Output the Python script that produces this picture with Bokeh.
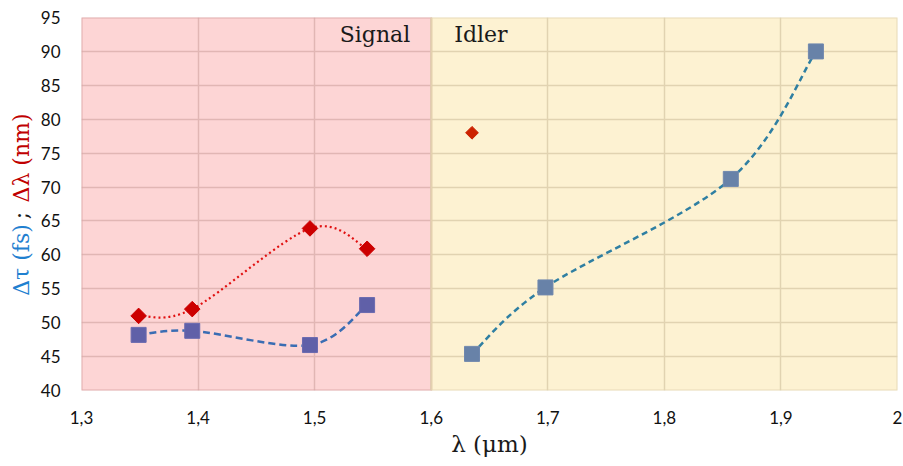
import math
from bokeh.plotting import figure
from bokeh.layouts import row
from bokeh.models import Range1d, FixedTicker, CustomJSTickFormatter, Label
from bokeh.core.properties import value
from bokeh.embed import file_html
from bokeh.resources import INLINE

# ---- data ----
signal_x = [1.349, 1.395, 1.496, 1.545]
signal_tau = [48.2, 48.8, 46.7, 52.6]
signal_dlambda = [51.0, 52.0, 63.9, 60.9]
idler_x = [1.635, 1.698, 1.857, 1.930]
idler_tau = [45.4, 55.2, 71.2, 90.0]
idler_dl_x = [1.635]
idler_dlambda = [78.0]
x_ticks = [1.3, 1.4, 1.5, 1.6, 1.7, 1.8, 1.9, 2.0]
y_ticks = [40, 45, 50, 55, 60, 65, 70, 75, 80, 85, 90, 95]
regions = {"Signal": (1.3, 1.6), "Idler": (1.6, 2.0)}
ylabel_parts = ["Δλ (nm)", ";", "Δτ (fs)"]
ylabel_colors = ["#c00000", "#1a1a1a", "#1f80d0"]


def smooth_segments(xs, ys):
    """Catmull-Rom style cubic Bezier segments (like spreadsheet smoothed lines)."""
    n = len(xs)
    out = dict(x0=[], y0=[], x1=[], y1=[], cx0=[], cy0=[], cx1=[], cy1=[])
    for i in range(n - 1):
        a = max(i - 1, 0)
        d = min(i + 2, n - 1)
        out["x0"].append(xs[i]); out["y0"].append(ys[i])
        out["x1"].append(xs[i + 1]); out["y1"].append(ys[i + 1])
        out["cx0"].append(xs[i] + (xs[i + 1] - xs[a]) / 6.0)
        out["cy0"].append(ys[i] + (ys[i + 1] - ys[a]) / 6.0)
        out["cx1"].append(xs[i + 1] - (xs[d] - xs[i]) / 6.0)
        out["cy1"].append(ys[i + 1] - (ys[d] - ys[i]) / 6.0)
    return out


TOTAL_H = 466
LEFT_W = 34
FRAME_TOP, FRAME_H = 17, 373

p = figure(frame_width=816, frame_height=FRAME_H, output_backend="svg", toolbar_location=None,
           x_range=Range1d(1.3, 2.0), y_range=Range1d(40, 95),
           min_border_left=81 - LEFT_W, min_border_right=6, min_border_top=FRAME_TOP,
           min_border_bottom=TOTAL_H - FRAME_TOP - FRAME_H)
p.background_fill_color = "white"
p.border_fill_color = "white"
p.outline_line_color = None

# region backgrounds (semi-transparent over the grid)
s0, s1 = regions["Signal"]
i0, i1 = regions["Idler"]
p.quad(left=[s0], right=[s1], bottom=[40], top=[95], fill_color="#fbabab", fill_alpha=0.5,
       line_color="#d9a3a3", line_width=2, line_alpha=0.8)
p.quad(left=[i0], right=[i1], bottom=[40], top=[95], fill_color="#fbe6a6", fill_alpha=0.5,
       line_color="#e2d4b2", line_width=2, line_alpha=0.8)

p.grid.grid_line_color = "#c6c0bc"
p.grid.grid_line_width = 1.5
p.xaxis.ticker = FixedTicker(ticks=x_ticks)
p.yaxis.ticker = FixedTicker(ticks=y_ticks)
p.xaxis.formatter = CustomJSTickFormatter(code="""
    var s = tick.toFixed(1).replace('.', ',');
    if (s.endsWith(',0')) { s = s.slice(0, -2); }
    return s;
""")
for ax in (p.xaxis[0], p.yaxis[0]):
    ax.axis_line_color = None
    ax.major_tick_line_color = None
    ax.minor_tick_line_color = None
    ax.major_label_text_font = "Lato"
    ax.major_label_text_font_size = "17px"
    ax.major_label_text_color = "#111111"
p.yaxis.major_label_standoff = 15
p.xaxis.major_label_standoff = 14
p.xaxis.axis_label = "λ (μm)"
p.xaxis.axis_label_text_font = "DejaVu Serif"
p.xaxis.axis_label_text_font_style = "normal"
p.xaxis.axis_label_text_font_size = "23px"
p.xaxis.axis_label_text_color = "#1a1a1a"
p.xaxis.axis_label_standoff = 4

# smoothed lines
seg = smooth_segments(signal_x, signal_dlambda)
p.bezier(source=seg, x0="x0", y0="y0", x1="x1", y1="y1", cx0="cx0", cy0="cy0", cx1="cx1", cy1="cy1",
         line_color="#e01010", line_width=2.2, line_dash="2 3")
seg = smooth_segments(signal_x, signal_tau)
p.bezier(source=seg, x0="x0", y0="y0", x1="x1", y1="y1", cx0="cx0", cy0="cy0", cx1="cx1", cy1="cy1",
         line_color="#3a6db3", line_width=2.5, line_dash="7 4")
seg = smooth_segments(idler_x, idler_tau)
p.bezier(source=seg, x0="x0", y0="y0", x1="x1", y1="y1", cx0="cx0", cy0="cy0", cx1="cx1", cy1="cy1",
         line_color="#2f7fa2", line_width=2.5, line_dash="6 4")

# markers (diamonds = squares rotated 45 deg)
p.scatter(signal_x, signal_dlambda, marker="square", angle=math.pi / 4, size=11,
          fill_color="#cc0000", line_color="#cc0000")
p.scatter(signal_x, signal_tau, marker="square", size=15, fill_color="#6060a8", line_color="#6a6ab0")
p.scatter(idler_dl_x, idler_dlambda, marker="square", angle=math.pi / 4, size=9,
          fill_color="#cc2200", line_color="#cc2200")
p.scatter(idler_x, idler_tau, marker="square", size=15, fill_color="#6882a8", line_color="#7088ae")

# region labels
p.add_layout(Label(x=s1, y=92.5, x_offset=-21, text="Signal", text_align="right", text_baseline="middle",
                   text_font="DejaVu Serif", text_font_size="22px", text_color="#1a1a1a"))
p.add_layout(Label(x=i0, y=92.5, x_offset=23, text="Idler", text_align="left", text_baseline="middle",
                   text_font="DejaVu Serif", text_font_size="22px", text_color="#1a1a1a"))

# multi-coloured y-axis title in a narrow side figure.
# Its frame is aligned with the main frame by the row layout, so its y range is
# expressed in page pixels measured from the top (frame spans FRAME_TOP..FRAME_TOP+FRAME_H).
side = figure(width=LEFT_W, height=TOTAL_H, output_backend="svg", toolbar_location=None,
              x_range=Range1d(0, LEFT_W), y_range=Range1d(FRAME_TOP + FRAME_H, FRAME_TOP),
              x_axis_location=None, y_axis_location=None,
              min_border=0, outline_line_color=None)
side.grid.visible = False
side.background_fill_color = "white"
side.border_fill_color = "white"
side.text(x=[21, 20, 21], y=[157.5, 215, 259.5], text=ylabel_parts, angle=math.pi / 2,
          text_align="center", text_baseline="middle", text_font=value("DejaVu Serif"),
          text_font_size="22px", text_color=ylabel_colors)

layout = row(side, p, spacing=0)
open("out.html", "w").write(file_html(layout, INLINE))
